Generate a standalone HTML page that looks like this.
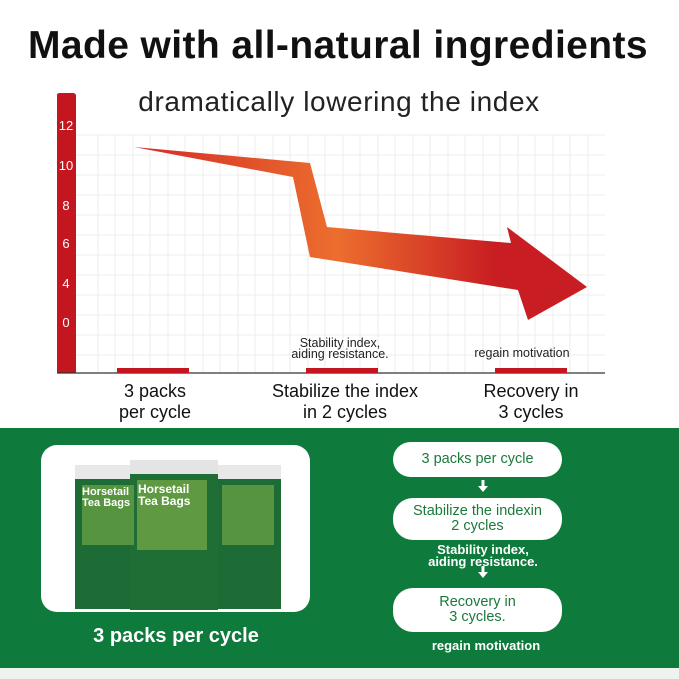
<!DOCTYPE html>
<html><head><meta charset="utf-8"><style>
body{margin:0;width:679px;height:679px;overflow:hidden;background:#fff;font-family:"Liberation Sans",sans-serif;position:relative}
.a{position:absolute;white-space:nowrap}
.c{transform:translateX(-50%);text-align:center}
.pill{position:absolute;left:393px;width:169px;background:#fff;border-radius:20px;color:#1a7a3a;font-size:14.5px;text-align:center;display:flex;align-items:center;justify-content:center;line-height:15px}
</style></head><body>
<div class="a c" style="left:338px;top:24px;font-size:39px;font-weight:bold;color:#111;letter-spacing:0.4px">Made with all-natural ingredients</div>
<div class="a c" style="left:339px;top:86px;font-size:28px;color:#222;letter-spacing:0.6px">dramatically lowering the index</div>
<svg class="a" style="left:0;top:0" width="679" height="430">
<defs><linearGradient id="g" x1="0" x2="1"><stop offset="0" stop-color="#d42a26"/><stop offset="0.45" stop-color="#ec6e2e"/><stop offset="0.8" stop-color="#c81d22"/></linearGradient></defs>
<g stroke="#ececec" stroke-width="1">
<path d="M76 135H605M76 155H605M76 175H605M76 195H605M76 215H605M76 235H605M76 255H605M76 275H605M76 295H605M76 315H605M76 335H605M76 355H605"/>
<path d="M98 135V373M115 135V373M133 135V373M150 135V373M168 135V373M185 135V373M203 135V373M220 135V373M238 135V373M255 135V373M273 135V373M290 135V373M308 135V373M325 135V373M343 135V373M360 135V373M378 135V373M395 135V373M413 135V373M430 135V373M448 135V373M465 135V373M483 135V373M500 135V373M518 135V373M535 135V373M553 135V373M570 135V373M588 135V373"/>
</g>
<path d="M57 95Q57 93 60 93H73Q76 93 76 96V373H57Z" fill="#c3161f"/>
<line x1="57" y1="373" x2="605" y2="373" stroke="#333" stroke-width="1.2"/>
<rect x="117" y="368" width="72" height="5" fill="#c3161f"/>
<rect x="306" y="368" width="72" height="5" fill="#c3161f"/>
<rect x="495" y="368" width="72" height="5" fill="#c3161f"/>
<path d="M134 147L310 163L327 227L511 243L507 227L587 287L528 320L518 290L310 257L293 177Z" fill="url(#g)"/>
<g fill="#fff" font-size="13" font-family="Liberation Sans" text-anchor="middle">
<text x="66" y="130">12</text><text x="66" y="170">10</text><text x="66" y="210">8</text><text x="66" y="248">6</text><text x="66" y="288">4</text><text x="66" y="327">0</text>
</g>
</svg>
<div class="a c" style="left:340px;top:338px;font-size:12.5px;line-height:11px;color:#222">Stability index,<br>aiding resistance.</div>
<div class="a c" style="left:522px;top:346px;font-size:12.5px;color:#222">regain motivation</div>
<div class="a c" style="left:155px;top:381px;font-size:18px;line-height:21px;color:#111">3 packs<br>per cycle</div>
<div class="a c" style="left:345px;top:381px;font-size:18px;line-height:21px;color:#111">Stabilize the index<br>in 2 cycles</div>
<div class="a c" style="left:531px;top:381px;font-size:18px;line-height:21px;color:#111">Recovery in<br>3 cycles</div>
<div class="a" style="left:0;top:428px;width:679px;height:240px;background:#0e7a3b"></div>
<div class="a" style="left:0;top:668px;width:679px;height:11px;background:#eef3f0"></div>
<div class="a" style="left:41px;top:445px;width:269px;height:167px;background:#fff;border-radius:16px"></div>
<div class="a" style="left:75px;top:465px;width:64px;height:130px;background:#1d6b35;border-top:14px solid #e8e8e8"></div>
<div class="a" style="left:217px;top:465px;width:64px;height:130px;background:#1d6b35;border-top:14px solid #e8e8e8"></div>
<div class="a" style="left:130px;top:460px;width:88px;height:136px;background:#1f6e36;border-top:14px solid #e4e4e4"></div>
<div class="a" style="left:137px;top:480px;width:70px;height:70px;background:#6fa546;opacity:.8"></div>
<div class="a" style="left:82px;top:485px;width:52px;height:60px;background:#6fa546;opacity:.7"></div>
<div class="a" style="left:222px;top:485px;width:52px;height:60px;background:#6fa546;opacity:.7"></div>
<div class="a" style="left:138px;top:483px;font-size:12px;font-weight:bold;color:#fff;line-height:12px">Horsetail<br>Tea Bags</div>
<div class="a" style="left:82px;top:487px;font-size:11px;font-weight:bold;color:#fff;line-height:11px">Horsetail<br>Tea Bags</div>
<div class="a c" style="left:176px;top:625px;font-size:20px;font-weight:bold;color:#fff">3 packs per cycle</div>
<div class="pill" style="top:442px;height:35px">3 packs per cycle</div>
<div class="pill" style="top:498px;height:42px">Stabilize the indexin<br>2 cycles</div>
<div class="pill" style="top:588px;height:44px">Recovery in<br>3 cycles.</div>
<div class="a c" style="left:483px;top:480px;width:3px;height:7px;background:#fff"></div>
<div class="a c" style="left:483px;top:486px;width:0;height:0;border-left:5px solid transparent;border-right:5px solid transparent;border-top:6px solid #fff"></div>
<div class="a c" style="left:483px;top:566px;width:3px;height:7px;background:#fff"></div>
<div class="a c" style="left:483px;top:572px;width:0;height:0;border-left:5px solid transparent;border-right:5px solid transparent;border-top:6px solid #fff"></div>
<div class="a c" style="left:483px;top:544px;font-size:13px;font-weight:bold;line-height:12px;color:#fff">Stability index,<br>aiding resistance.</div>
<div class="a c" style="left:486px;top:638px;font-size:13px;font-weight:bold;color:#fff">regain motivation</div>
</body></html>
